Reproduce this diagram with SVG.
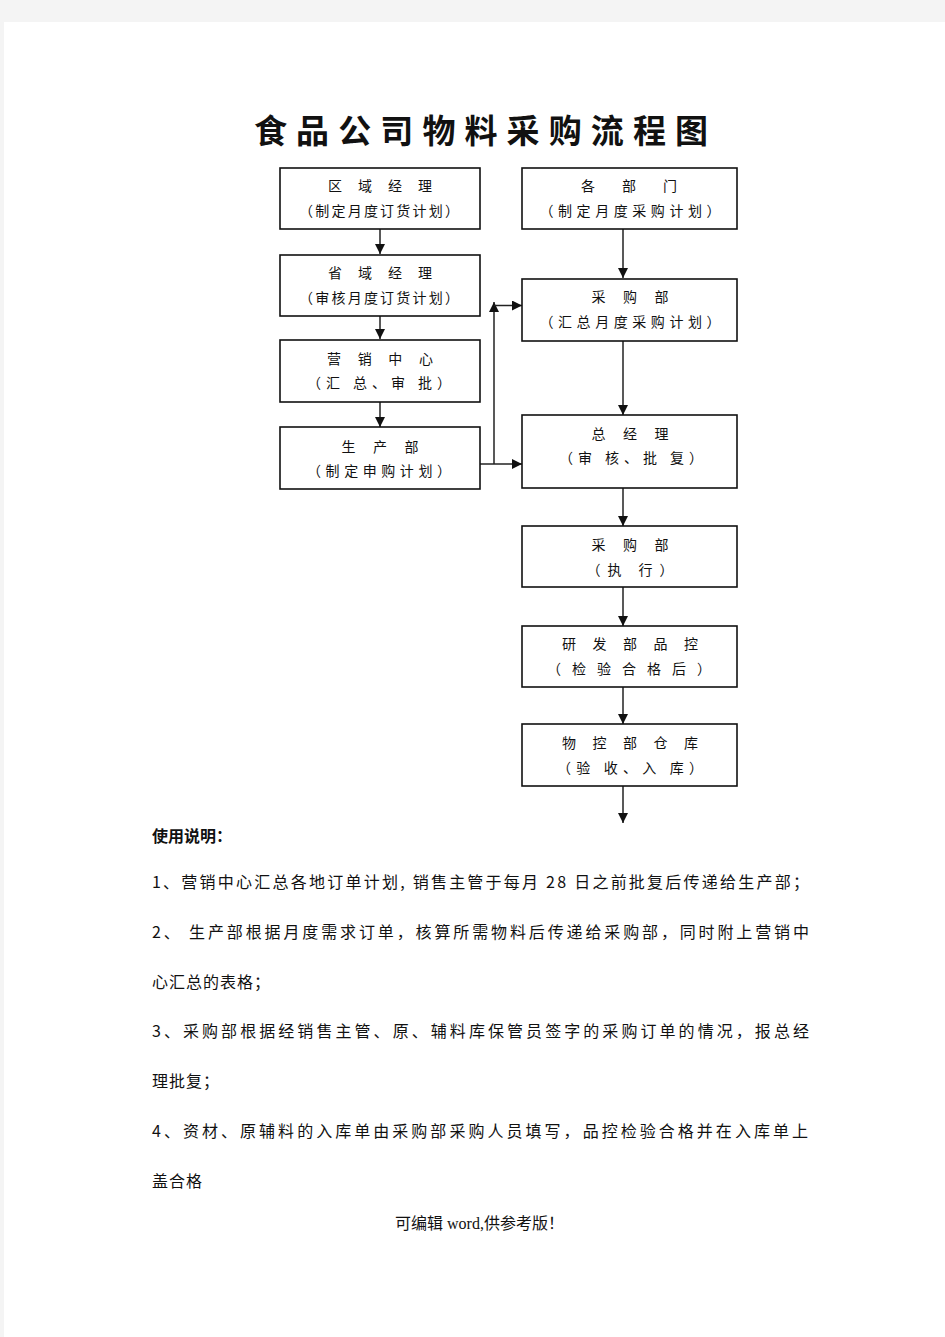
<svg xmlns="http://www.w3.org/2000/svg" width="945" height="1337" viewBox="0 0 945 1337">
<defs>
<style>
.box{fill:#fff;stroke:#111;stroke-width:1.6}
.t{font-family:"Noto Sans CJK SC","Noto Sans",sans-serif;font-size:14px;fill:#111;text-anchor:middle}
.c{stroke:#222;stroke-width:1.5;fill:none;marker-end:url(#ah)}
.b{font-family:"Noto Sans CJK SC","Noto Sans",sans-serif;font-size:16px;fill:#111}
</style>
<marker id="ah" markerUnits="userSpaceOnUse" markerWidth="10" markerHeight="10" refX="10" refY="5" orient="auto">
<path d="M0,0 L10,5 L0,10 z" fill="#111"/>
</marker>
</defs>
<rect x="0" y="0" width="945" height="1337" fill="#f4f4f4"/>
<rect x="4" y="22" width="941" height="1315" fill="#fff"/>
<text x="254" y="143" font-family="'Noto Sans CJK SC',sans-serif" font-size="33" font-weight="700" fill="#111" textLength="454" lengthAdjust="spacing">食品公司物料采购流程图</text>

<g id="connectors">
<line class="c" x1="380" y1="229" x2="380" y2="254"/>
<line class="c" x1="380" y1="316" x2="380" y2="339"/>
<line class="c" x1="380" y1="402" x2="380" y2="427"/>
<line class="c" x1="623" y1="229" x2="623" y2="278"/>
<line class="c" x1="623" y1="341" x2="623" y2="415"/>
<line class="c" x1="623" y1="488" x2="623" y2="526"/>
<line class="c" x1="623" y1="587" x2="623" y2="626"/>
<line class="c" x1="623" y1="687" x2="623" y2="724"/>
<line class="c" x1="623" y1="786" x2="623" y2="823"/>
<line class="c" x1="480" y1="464" x2="522" y2="464"/>
<line class="c" x1="494" y1="464" x2="494" y2="302"/>
<line class="c" x1="494" y1="305.5" x2="522" y2="305.5"/>
</g>

<g id="n1"><rect class="box" x="280" y="168" width="200" height="61"/>
<text class="t" x="380" y="191" textLength="104" lengthAdjust="spacing">区域经理</text>
<text class="t" x="379" y="216" textLength="160" lengthAdjust="spacing">（制定月度订货计划）</text></g>

<g id="n2"><rect class="box" x="280" y="255" width="200" height="61"/>
<text class="t" x="380" y="278" textLength="104" lengthAdjust="spacing">省域经理</text>
<text class="t" x="379" y="303" textLength="160" lengthAdjust="spacing">（审核月度订货计划）</text></g>

<g id="n3"><rect class="box" x="280" y="340" width="200" height="62"/>
<text class="t" x="380" y="364" textLength="106" lengthAdjust="spacing">营销中心</text>
<text class="t" x="379" y="388" textLength="144" lengthAdjust="spacing">（汇 总、审 批）</text></g>

<g id="n4"><rect class="box" x="280" y="427" width="200" height="62"/>
<text class="t" x="380" y="452" textLength="77" lengthAdjust="spacing">生产部</text>
<text class="t" x="379" y="476" textLength="144" lengthAdjust="spacing">（制定申购计划）</text></g>

<g id="n5"><rect class="box" x="522" y="168" width="215" height="61"/>
<text class="t" x="629" y="191" textLength="96" lengthAdjust="spacing">各部门</text>
<text class="t" x="630" y="216" textLength="181" lengthAdjust="spacing">（制定月度采购计划）</text></g>

<g id="n6"><rect class="box" x="522" y="279" width="215" height="62"/>
<text class="t" x="630" y="302" textLength="77" lengthAdjust="spacing">采购部</text>
<text class="t" x="630" y="327" textLength="181" lengthAdjust="spacing">（汇总月度采购计划）</text></g>

<g id="n7"><rect class="box" x="522" y="415" width="215" height="73"/>
<text class="t" x="630" y="439" textLength="77" lengthAdjust="spacing">总经理</text>
<text class="t" x="631" y="463" textLength="144" lengthAdjust="spacing">（审 核、批 复）</text></g>

<g id="n8"><rect class="box" x="522" y="526" width="215" height="61"/>
<text class="t" x="630" y="550" textLength="77" lengthAdjust="spacing">采购部</text>
<text class="t" x="630" y="575" textLength="87" lengthAdjust="spacing">（执  行）</text></g>

<g id="n9"><rect class="box" x="522" y="626" width="215" height="61"/>
<text class="t" x="630" y="649" textLength="136" lengthAdjust="spacing">研发部品控</text>
<text class="t" x="629" y="674" textLength="164" lengthAdjust="spacing">（检验合格后）</text></g>

<g id="n10"><rect class="box" x="522" y="724" width="215" height="62"/>
<text class="t" x="630" y="748" textLength="136" lengthAdjust="spacing">物控部仓库</text>
<text class="t" x="630" y="773" textLength="146" lengthAdjust="spacing">（验 收、入 库）</text></g>

<g id="notes">
<text class="b" x="152" y="842" font-weight="700">使用说明：</text>
<text class="b" x="152" y="888" textLength="657" lengthAdjust="spacing">1、营销中心汇总各地订单计划, 销售主管于每月 28 日之前批复后传递给生产部；</text>
<text class="b" x="152" y="938" textLength="657" lengthAdjust="spacing">2、 生产部根据月度需求订单，核算所需物料后传递给采购部，同时附上营销中</text>
<text class="b" x="152" y="988" letter-spacing="1">心汇总的表格；</text>
<text class="b" x="152" y="1037" textLength="657" lengthAdjust="spacing">3、采购部根据经销售主管、原、辅料库保管员签字的采购订单的情况，报总经</text>
<text class="b" x="152" y="1087" letter-spacing="1">理批复；</text>
<text class="b" x="152" y="1137" textLength="656" lengthAdjust="spacing">4、资材、原辅料的入库单由采购部采购人员填写，品控检验合格并在入库单上</text>
<text class="b" x="152" y="1187" letter-spacing="1">盖合格</text>
</g>
<text x="395" y="1229" font-family="'Noto Sans CJK SC',sans-serif" font-size="16" fill="#111">可编辑<tspan font-family="'Liberation Serif',serif"> word,</tspan>供参考版！</text>
</svg>
